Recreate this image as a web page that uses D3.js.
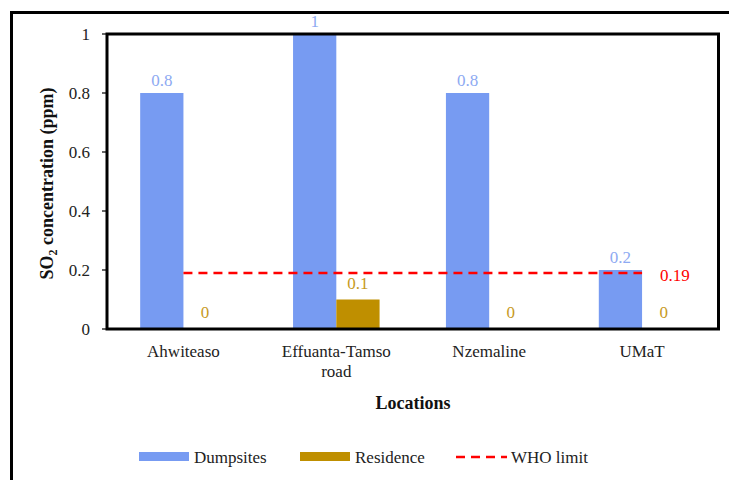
<!DOCTYPE html>
<html><head><meta charset="utf-8"><script src="https://cdn.jsdelivr.net/npm/d3@7"></script></head>
<body style="margin:0">
<svg id="chart" width="729" height="480"></svg>
<script>
// SO2 concentration by location
const locations = ["Ahwiteaso", "Effuanta-Tamso road", "Nzemaline", "UMaT"];
const dumpsites = [0.8, 1, 0.8, 0.2];
const residence = [0, 0.1, 0, 0];
const whoLimit = 0.19;
const yTicks = [0, 0.2, 0.4, 0.6, 0.8, 1];
const seriesNames = ["Dumpsites", "Residence", "WHO limit"];

const colDump = "#779bf2", colRes = "#bf8f00", colWho = "#ff0000";
const labDump = "#8eaaf2", labRes = "#c79a1e";

const svg = d3.select("#chart");
const plot = { left: 107, right: 718.5, top: 34, bottom: 329 };

function txt(sel, size) {
  return sel.append("text").attr("font-family", "Liberation Serif").attr("font-size", size);
}

// outer chart frame (extends past the right and bottom edges)
svg.append("rect")
  .attr("x", 11.5).attr("y", 12.5).attr("width", 740).attr("height", 500)
  .attr("fill", "none").attr("stroke", "#000").attr("stroke-width", 3);

const x = d3.scaleBand().domain(locations).range([plot.left, plot.right]);
const y = d3.scaleLinear().domain([0, 1]).range([plot.bottom, plot.top]);
const barW = x.bandwidth() * 0.283;

// bars
const g = svg.append("g");
g.selectAll("rect.dump").data(locations).join("rect")
  .attr("x", (d) => x(d) + x.bandwidth() / 2 - barW)
  .attr("y", (d, i) => y(dumpsites[i]))
  .attr("width", barW)
  .attr("height", (d, i) => y(0) - y(dumpsites[i]))
  .attr("fill", colDump);
g.selectAll("rect.res").data(locations).join("rect")
  .attr("x", (d) => x(d) + x.bandwidth() / 2)
  .attr("y", (d, i) => y(residence[i]))
  .attr("width", barW)
  .attr("height", (d, i) => y(0) - y(residence[i]))
  .attr("fill", colRes);

// WHO limit line across category centres
const line = d3.line().x((d) => x(d) + x.bandwidth() / 2).y(() => y(whoLimit));
svg.append("path").datum(locations)
  .attr("d", line)
  .attr("fill", "none").attr("stroke", colWho)
  .attr("stroke-width", 2.5).attr("stroke-dasharray", "9,6");

// plot frame
svg.append("rect")
  .attr("x", plot.left).attr("y", plot.top)
  .attr("width", plot.right - plot.left).attr("height", plot.bottom - plot.top)
  .attr("fill", "none").attr("stroke", "#000").attr("stroke-width", 3);

// y axis ticks and labels
const yAxis = svg.append("g");
yAxis.selectAll("line").data(yTicks).join("line")
  .attr("x1", plot.left - 5).attr("x2", plot.left)
  .attr("y1", (d) => y(d)).attr("y2", (d) => y(d))
  .attr("stroke", "#000").attr("stroke-width", 1.2);
yTicks.forEach((t) => {
  txt(yAxis, 17)
    .attr("x", 90).attr("y", y(t) + 6)
    .attr("text-anchor", "end").attr("fill", "#222")
    .text(d3.format("~g")(t));
});

// category labels
const xLab = svg.append("g");
locations.forEach((loc) => {
  const cx = x(loc) + x.bandwidth() / 2;
  const parts = loc === "Effuanta-Tamso road" ? ["Effuanta-Tamso", "road"] : [loc];
  parts.forEach((p, j) => {
    txt(xLab, 17)
      .attr("x", cx).attr("y", 357 + j * 20)
      .attr("text-anchor", "middle").attr("fill", "#222")
      .text(p);
  });
});

// data labels
const fmt = d3.format("~g");
const lab = svg.append("g");
locations.forEach((loc, i) => {
  const cx = x(loc) + x.bandwidth() / 2;
  txt(lab, 17)
    .attr("x", cx - barW / 2).attr("y", y(dumpsites[i]) - 7)
    .attr("text-anchor", "middle").attr("fill", labDump)
    .text(fmt(dumpsites[i]));
  txt(lab, 17)
    .attr("x", cx + barW / 2).attr("y", y(residence[i]) - 11)
    .attr("text-anchor", "middle").attr("fill", labRes)
    .text(fmt(residence[i]));
});
txt(lab, 17)
  .attr("x", x(locations[3]) + x.bandwidth() / 2 + 18)
  .attr("y", y(whoLimit) + 8)
  .attr("fill", colWho)
  .text(fmt(whoLimit));

// axis titles
const yt = txt(svg, 18)
  .attr("transform", `translate(53,${(plot.top + plot.bottom) / 2 + 2}) rotate(-90)`)
  .attr("text-anchor", "middle").attr("font-weight", "bold").attr("fill", "#111");
yt.append("tspan").text("SO");
yt.append("tspan").attr("font-size", 12).attr("dy", 4).text("2");
yt.append("tspan").attr("dy", -4).text(" concentration (ppm)");

txt(svg, 18)
  .attr("x", 413).attr("y", 409)
  .attr("text-anchor", "middle").attr("font-weight", "bold").attr("fill", "#111")
  .text("Locations");

// legend
const legend = svg.append("g");
const legX = [139, 300, 456];
seriesNames.forEach((name, i) => {
  const lx = legX[i];
  if (i < 2) {
    legend.append("rect").attr("x", lx).attr("y", 452).attr("width", 50).attr("height", 9)
      .attr("fill", i === 0 ? colDump : colRes);
  } else {
    legend.append("line").attr("x1", lx).attr("x2", lx + 51).attr("y1", 457).attr("y2", 457)
      .attr("stroke", colWho).attr("stroke-width", 2.5).attr("stroke-dasharray", "9,6");
  }
  txt(legend, 17).attr("x", lx + 55).attr("y", 463)
    .attr("fill", "#222").text(name);
});
</script>
</body></html>
